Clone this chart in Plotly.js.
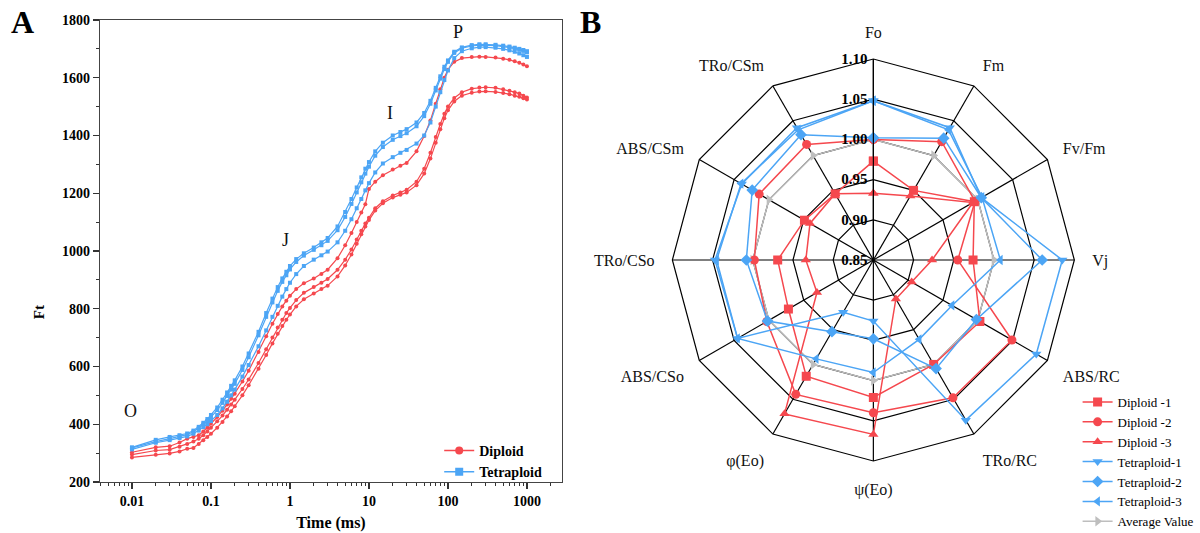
<!DOCTYPE html>
<html>
<head>
<meta charset="utf-8">
<script src="https://cdn.plot.ly/plotly-3.0.1.min.js"></script>
<style>
  html, body { margin: 0; padding: 0; background: #fff; }
  #chart { width: 1200px; height: 533px; }
</style>
</head>
<body>
<div id="chart"></div>
<script>
// ---- panel A: OJIP transients (time in ms) ----
var time = [0.01,0.02,0.03,0.04,0.05,0.06,0.07,0.08,0.09,0.1,
    0.12,0.14,0.16,0.18,0.2,0.25,0.3,0.4,0.5,0.6,
    0.7,0.8,0.9,1,1.2,1.5,2,2.5,3,4,
    5,6,7,8,9,10,12,15,20,25,
    30,40,50,60,70,80,90,100,120,150,
    200,250,300,400,500,600,700,800,900,1000];

var diploid1 = [303,320,324,337,350,356,362,375,388,402,
    425,447,468,488,506,548,585,650,705,748,
    782,808,828,845,868,888,905,920,935,975,
    1020,1062,1100,1133,1162,1215,1240,1262,1282,1295,
    1305,1345,1398,1452,1510,1560,1600,1628,1655,1668,
    1672,1673,1672,1670,1666,1662,1657,1652,1646,1640];
var diploid2 = [295,309,312,322,332,340,350,362,375,388,
    410,430,450,468,485,522,555,612,660,700,
    735,762,785,803,830,855,875,890,903,935,
    970,1005,1040,1070,1095,1115,1148,1172,1192,1203,
    1212,1240,1285,1340,1395,1440,1475,1500,1530,1550,
    1562,1566,1567,1565,1560,1555,1550,1545,1538,1532];
var diploid3 = [285,294,299,306,315,318,332,345,356,367,
    388,408,427,445,462,500,535,592,640,680,
    713,740,762,780,808,833,853,868,880,912,
    950,988,1025,1058,1085,1107,1140,1165,1185,1195,
    1203,1228,1268,1320,1375,1422,1460,1487,1518,1538,
    1548,1552,1553,1551,1547,1543,1538,1534,1529,1525];
var tetraploid1 = [320,346,356,362,368,378,391,405,418,432,
    458,485,510,533,552,600,645,720,785,835,
    875,905,928,948,972,992,1012,1030,1045,1085,
    1135,1180,1220,1255,1285,1308,1345,1375,1400,1412,
    1422,1445,1478,1520,1565,1605,1638,1660,1690,1705,
    1713,1716,1716,1714,1711,1708,1704,1700,1696,1692];
var tetraploid2 = [318,340,350,357,364,374,386,399,411,424,
    449,474,498,520,540,588,632,708,772,822,
    862,893,916,936,962,984,1004,1020,1035,1072,
    1118,1163,1203,1238,1268,1292,1330,1360,1385,1398,
    1408,1432,1467,1510,1556,1597,1630,1655,1686,1702,
    1710,1713,1713,1711,1708,1705,1701,1697,1693,1688];
var tetraploid3 = [313,336,345,352,358,367,378,390,400,411,
    432,455,478,500,520,565,605,670,725,772,
    810,842,868,890,920,948,970,985,998,1030,
    1070,1110,1148,1180,1210,1235,1272,1303,1325,1340,
    1350,1372,1400,1445,1500,1550,1592,1625,1668,1692,
    1702,1706,1706,1704,1700,1695,1690,1684,1678,1672];

var phaseLabels = ['O', 'J', 'I', 'P'];
var phaseTime = [0.0097, 0.87, 18.4, 134];
var phaseFt = [446, 1038, 1478, 1758];

// ---- panel B: JIP-test parameters relative to the mean ----
var params = ['Fo','Fm','Fv/Fm','Vj','ABS/RC','TRo/RC','ψ(Eo)','φ(Eo)','ABS/CSo','TRo/CSo','ABS/CSm','TRo/CSm'];
var radarNames = ['Diploid -1','Diploid -2','Diploid -3','Tetraploid-1','Tetraploid-2','Tetraploid-3','Average Value'];
var radarD1 = [0.973,0.950,0.995,0.974,1.003,1.000,1.021,1.017,0.972,0.969,0.949,0.945];
var radarD2 = [1.000,1.020,0.996,0.955,1.049,1.048,1.040,1.043,1.003,0.998,1.014,1.016];
var radarD3 = [0.933,0.942,0.993,0.923,0.905,0.906,1.067,1.071,0.931,0.934,0.941,0.945];
var radarT1 = [1.048,1.040,1.005,1.085,1.084,1.080,0.926,0.925,1.045,1.047,1.039,1.040];
var radarT2 = [1.002,1.025,1.005,1.060,0.998,1.006,0.948,0.953,1.002,1.008,1.024,1.030];
var radarT3 = [1.048,1.037,1.006,1.008,0.963,0.964,0.990,0.992,1.045,1.045,1.040,1.037];
var radarAvg = [1,1,1,1,1,1,1,1,1,1,1,1];
var radialTicks = [0.85,0.90,0.95,1.00,1.05,1.10];

var red = 'rgb(245,72,78)';
var blue = 'rgb(76,165,245)';
var grey = 'rgb(190,190,190)';
var serif = 'Liberation Serif, Times New Roman, serif';

function ojip(y, color, symbol, name) {
    return {
        x: time, y: y,
        type: 'scatter', mode: 'lines+markers',
        name: name, legendgroup: name, showlegend: false,
        line: {color: color, width: 1.2},
        marker: {color: color, symbol: symbol, size: 4},
        xaxis: 'x', yaxis: 'y'
    };
}

// legend-only entry (no points) so the key shows a readable marker
function ojipKey(color, symbol, name) {
    return {
        x: [null], y: [null],
        type: 'scatter', mode: 'lines+markers',
        name: name, legendgroup: name,
        line: {color: color, width: 1.4},
        marker: {color: color, symbol: symbol, size: 8},
        xaxis: 'x', yaxis: 'y'
    };
}

function radar(r, name, color, symbol) {
    return {
        type: 'scatterpolar', mode: 'lines+markers',
        r: r.concat([r[0]]), theta: params.concat([params[0]]),
        name: name, legend: 'legend2',
        line: {color: color, width: 1.5},
        marker: {color: color, symbol: symbol, size: 9},
        cliponaxis: false
    };
}

var data = [
    ojip(diploid1, red, 'circle', 'Diploid'),
    ojip(diploid2, red, 'circle', 'Diploid'),
    ojip(diploid3, red, 'circle', 'Diploid'),
    ojip(tetraploid1, blue, 'square', 'Tetraploid'),
    ojip(tetraploid2, blue, 'square', 'Tetraploid'),
    ojip(tetraploid3, blue, 'square', 'Tetraploid'),
    ojipKey(red, 'circle', 'Diploid'),
    ojipKey(blue, 'square', 'Tetraploid'),
    radar(radarAvg, radarNames[6], grey, 'triangle-right'),
    radar(radarD1, radarNames[0], red, 'square'),
    radar(radarD2, radarNames[1], red, 'circle'),
    radar(radarD3, radarNames[2], red, 'triangle-up'),
    radar(radarT1, radarNames[3], blue, 'triangle-down'),
    radar(radarT2, radarNames[4], blue, 'diamond'),
    radar(radarT3, radarNames[5], blue, 'triangle-left')
];
// legend order: diploids first, average last
data[8].legendrank = 1100;

var annotations = phaseLabels.map(function (txt, i) {
    return {
        x: Math.log10(phaseTime[i]), y: phaseFt[i], xref: 'x', yref: 'y',
        text: txt, showarrow: false,
        font: {family: serif, size: 18, color: '#111'}
    };
});
annotations.push(
    {x: 0.019, y: 0.958, xref: 'paper', yref: 'paper', xanchor: 'center', yanchor: 'middle',
     text: '<b>A</b>', showarrow: false, font: {family: serif, size: 32, color: '#000'}},
    {x: 0.492, y: 0.958, xref: 'paper', yref: 'paper', xanchor: 'center', yanchor: 'middle',
     text: '<b>B</b>', showarrow: false, font: {family: serif, size: 32, color: '#000'}},
    {x: 0.032, y: 0.415, xref: 'paper', yref: 'paper', xanchor: 'center', yanchor: 'middle',
     text: '<b>Ft</b>', showarrow: false, textangle: -90,
     font: {family: serif, size: 15, color: '#000'}}
);

var layout = {
    width: 1200, height: 533,
    margin: {l: 0, r: 0, t: 0, b: 0, autoexpand: false},
    paper_bgcolor: '#fff', plot_bgcolor: '#fff',
    font: {family: serif, color: '#000'},
    xaxis: {
        domain: [0.0833, 0.4683],
        type: 'log', range: [-2.405, 3.443],
        tickvals: [0.01, 0.1, 1, 10, 100, 1000],
        ticktext: ['0.01', '0.1', '1', '10', '100', '1000'],
        ticks: 'outside', ticklen: 6, tickwidth: 1.2, tickcolor: '#333',
        minor: {ticks: 'outside', ticklen: 3, dtick: 'D1', tickcolor: '#333', showgrid: false},
        showgrid: false, zeroline: false,
        showline: true, mirror: true, linecolor: '#444', linewidth: 1.2,
        tickfont: {family: serif, size: 14, weight: 'bold'},
        title: {text: '<b>Time (ms)</b>', font: {family: serif, size: 16}, standoff: 8}
    },
    yaxis: {
        domain: [0.0957, 0.9625],
        range: [200, 1800], dtick: 200,
        ticks: 'outside', ticklen: 6, tickwidth: 1.2, tickcolor: '#333',
        minor: {ticks: 'outside', ticklen: 3, dtick: 100, tickcolor: '#333', showgrid: false},
        showgrid: false, zeroline: false,
        showline: true, mirror: true, linecolor: '#444', linewidth: 1.2,
        tickfont: {family: serif, size: 14, weight: 'bold'}
    },
    polar: {
        domain: {x: [0.5603, 0.8953], y: [0.1351, 0.8893]},
        bgcolor: '#fff',
        gridshape: 'linear',
        radialaxis: {
            range: [0.85, 1.10], tickvals: radialTicks,
            ticktext: radialTicks.map(function (v) { return v.toFixed(2); }),
            angle: 90, tickangle: 90, side: 'counterclockwise',
            showline: true, linecolor: '#000', linewidth: 1.2,
            gridcolor: '#000', gridwidth: 1.2, ticks: '',
            tickfont: {family: serif, size: 15, weight: 'bold', color: '#000'}
        },
        angularaxis: {
            direction: 'clockwise', rotation: 90,
            linecolor: '#000', linewidth: 1.2,
            gridcolor: '#000', gridwidth: 1.2,
            ticks: 'outside', ticklen: 14, tickcolor: 'rgba(0,0,0,0)',
            tickfont: {family: serif, size: 16, color: '#111'}
        }
    },
    legend: {
        x: 0.366, y: 0.184, xanchor: 'left', yanchor: 'top',
        bgcolor: 'rgba(0,0,0,0)', tracegroupgap: 0,
        font: {family: serif, size: 14, weight: 'bold'}
    },
    legend2: {
        x: 0.898, y: 0.274, xanchor: 'left', yanchor: 'top',
        bgcolor: 'rgba(0,0,0,0)', tracegroupgap: 0,
        font: {family: serif, size: 13}
    },
    annotations: annotations
};

Plotly.newPlot(document.getElementById('chart'), data, layout, {displayModeBar: false, staticPlot: true});
</script>
</body>
</html>
